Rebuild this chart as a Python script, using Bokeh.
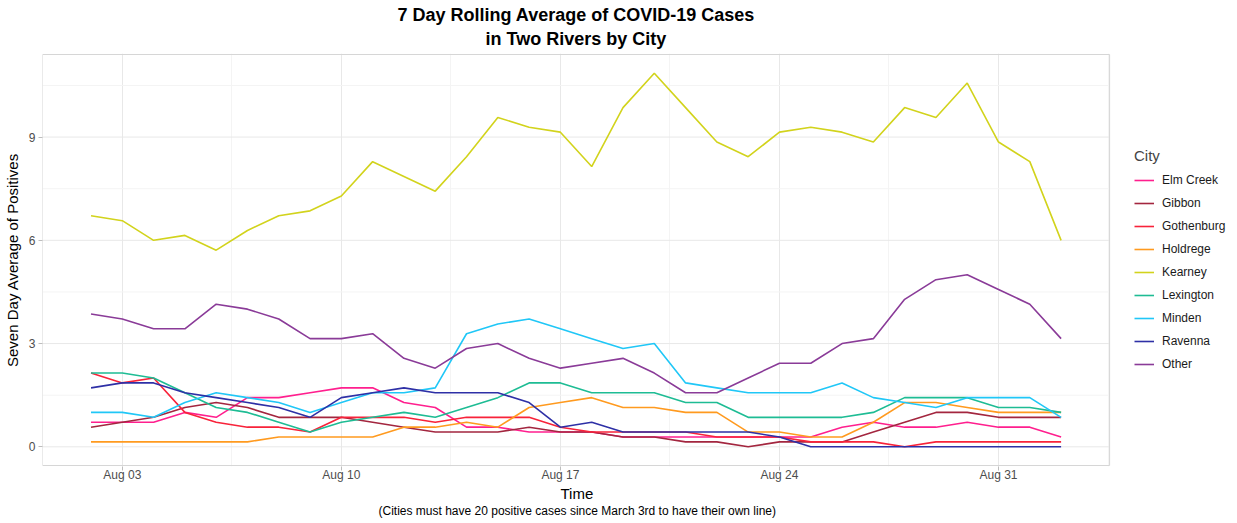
import datetime as dt
from bokeh.plotting import figure
from bokeh.models import (Range1d, FixedTicker, DatetimeTickFormatter, Legend,
                          LegendItem, Title)
from bokeh.embed import file_html
from bokeh.resources import INLINE

# ---------------- data ----------------
first_day = "2020-08-02"
n_days = 32
cities = ["Elm Creek", "Gibbon", "Gothenburg", "Holdrege", "Kearney",
          "Lexington", "Minden", "Ravenna", "Other"]

elm_creek = [0.714, 0.714, 0.714, 1.0, 0.857, 1.429, 1.429, 1.571, 1.714, 1.714, 1.286, 1.143,
             0.571, 0.571, 0.429, 0.429, 0.429, 0.286, 0.286, 0.286, 0.286, 0.286, 0.286, 0.286,
             0.571, 0.714, 0.571, 0.571, 0.714, 0.571, 0.571, 0.286]
gibbon = [0.571, 0.714, 0.857, 1.143, 1.286, 1.143, 0.857, 0.857, 0.857, 0.714, 0.571, 0.429,
          0.429, 0.429, 0.571, 0.429, 0.429, 0.286, 0.286, 0.143, 0.143, 0.0, 0.143, 0.143,
          0.143, 0.429, 0.714, 1.0, 1.0, 0.857, 0.857, 0.857]
gothenburg = [2.143, 1.857, 2.0, 1.0, 0.714, 0.571, 0.571, 0.429, 0.857, 0.857, 0.857, 0.714,
              0.857, 0.857, 0.857, 0.571, 0.429, 0.429, 0.429, 0.429, 0.286, 0.286, 0.286, 0.143,
              0.143, 0.143, 0.0, 0.143, 0.143, 0.143, 0.143, 0.143]
holdrege = [0.143, 0.143, 0.143, 0.143, 0.143, 0.143, 0.286, 0.286, 0.286, 0.286, 0.571, 0.571,
            0.714, 0.571, 1.143, 1.286, 1.429, 1.143, 1.143, 1.0, 1.0, 0.429, 0.429, 0.286,
            0.286, 0.714, 1.286, 1.286, 1.143, 1.0, 1.0, 1.0]
kearney = [6.714, 6.571, 6.0, 6.143, 5.714, 6.286, 6.714, 6.857, 7.286, 8.286, 7.857, 7.429,
           8.429, 9.571, 9.286, 9.143, 8.143, 9.857, 10.857, 9.857, 8.857, 8.429, 9.143, 9.286,
           9.143, 8.857, 9.857, 9.571, 10.571, 8.857, 8.286, 6.0]
lexington = [2.143, 2.143, 2.0, 1.571, 1.143, 1.0, 0.714, 0.429, 0.714, 0.857, 1.0, 0.857,
             1.143, 1.429, 1.857, 1.857, 1.571, 1.571, 1.571, 1.286, 1.286, 0.857, 0.857, 0.857,
             0.857, 1.0, 1.429, 1.429, 1.429, 1.143, 1.143, 1.0]
minden = [1.0, 1.0, 0.857, 1.286, 1.571, 1.429, 1.286, 1.0, 1.286, 1.571, 1.571, 1.714,
          3.286, 3.571, 3.714, 3.429, 3.143, 2.857, 3.0, 1.857, 1.714, 1.571, 1.571, 1.571,
          1.857, 1.429, 1.286, 1.143, 1.429, 1.429, 1.429, 0.857]
ravenna = [1.714, 1.857, 1.857, 1.571, 1.429, 1.286, 1.143, 0.857, 1.429, 1.571, 1.714, 1.571,
           1.571, 1.571, 1.286, 0.571, 0.714, 0.429, 0.429, 0.429, 0.429, 0.429, 0.286, 0.0,
           0.0, 0.0, 0.0, 0.0, 0.0, 0.0, 0.0, 0.0]
other = [3.857, 3.714, 3.429, 3.429, 4.143, 4.0, 3.714, 3.143, 3.143, 3.286, 2.571, 2.286,
         2.857, 3.0, 2.571, 2.286, 2.429, 2.571, 2.143, 1.571, 1.571, 2.0, 2.429, 2.429,
         3.0, 3.143, 4.286, 4.857, 5.0, 4.571, 4.143, 3.143]

colors = ["#FF1F8E", "#A3263F", "#F8233A", "#FF9A1F", "#D2D31C",
          "#1EBC94", "#20C7F7", "#2E30A6", "#8A3B98"]

x_tick_dates = ["2020-08-03", "2020-08-10", "2020-08-17", "2020-08-24", "2020-08-31"]
y_ticks = [0, 3, 6, 9]

title_line1 = "7 Day Rolling Average of COVID-19 Cases"
title_line2 = "in Two Rivers by City"
x_title = "Time"
y_title = "Seven Day Average of Positives"
caption = "(Cities must have 20 positive cases since March 3rd to have their own line)"
legend_title = "City"

# ---------------- layout constants (pixels) ----------------
FONT = "Liberation Sans"
W, H = 1237, 523
LEFT, TOP, BOTTOM = 41, 53, 57
PANEL_W = 1068          # width of the grey-bordered data panel
FRAME_W = W - LEFT      # frame runs to the right edge (legend lives inside it)
FRAME_H = H - TOP - BOTTOM
PANEL_CX = PANEL_W / 2  # panel centre, relative to frame left

# ---------------- scales ----------------
series = [elm_creek, gibbon, gothenburg, holdrege, kearney, lexington, minden, ravenna, other]
d0 = dt.datetime.strptime(first_day, "%Y-%m-%d")
dates = [d0 + dt.timedelta(days=i) for i in range(n_days)]
epoch = dt.datetime(1970, 1, 1)
DAY = 86400000.0


def ms(d):
    return (d - epoch).total_seconds() * 1000.0


major_x = [ms(dt.datetime.strptime(s, "%Y-%m-%d")) for s in x_tick_dates]
minor_x = [m + 3.5 * DAY for m in major_x]
x_lo, x_hi = ms(dates[0]), ms(dates[-1])
x_pad = 0.05 * (x_hi - x_lo)
panel_x0, panel_x1 = x_lo - x_pad, x_hi + x_pad
frame_x1 = panel_x0 + (panel_x1 - panel_x0) * FRAME_W / PANEL_W

all_vals = [v for s in series for v in s]
y_lo, y_hi = min(all_vals), max(all_vals)
y_pad = 0.05 * (y_hi - y_lo)
panel_y0, panel_y1 = y_lo - y_pad, y_hi + y_pad
px_y = (panel_y1 - panel_y0) / FRAME_H
frame_y0, frame_y1 = panel_y0 - px_y, panel_y1 + px_y

p = figure(width=W, height=H, x_axis_type="datetime",
           output_backend="svg", toolbar_location=None,
           x_range=Range1d(panel_x0, frame_x1),
           y_range=Range1d(frame_y0, frame_y1),
           min_border_left=LEFT, min_border_right=0,
           min_border_top=TOP, min_border_bottom=BOTTOM)
p.background_fill_color = "white"
p.border_fill_color = "white"
p.outline_line_color = None

# grid: vertical lines from the axis ticker, horizontal lines limited to the panel
p.xgrid.grid_line_color = "#E8E8E8"
p.xgrid.minor_grid_line_color = "#F4F4F4"
p.ygrid.visible = False
minor_y = [t + 1.5 for t in y_ticks if t + 1.5 < panel_y1]
p.segment(x0=[panel_x0] * len(minor_y), x1=[panel_x1] * len(minor_y),
          y0=minor_y, y1=minor_y, line_color="#F4F4F4", line_width=1)
p.segment(x0=[panel_x0] * len(y_ticks), x1=[panel_x1] * len(y_ticks),
          y0=y_ticks, y1=y_ticks, line_color="#E8E8E8", line_width=1)

renderers = []
for name, vals, c in zip(cities, series, colors):
    r = p.line(dates, vals, line_color=c, line_width=1.6)
    renderers.append(r)

# panel border
p.quad(left=[panel_x0], right=[panel_x1], bottom=[panel_y0], top=[panel_y1],
       fill_color=None, line_color="#D6D6D6", line_width=1)

# axes
p.xaxis.ticker = FixedTicker(ticks=major_x, minor_ticks=minor_x)
p.xaxis.formatter = DatetimeTickFormatter(days="%b %d", months="%b %d", hours="%b %d",
                                          years="%b %d", minutes="%b %d")
p.yaxis.ticker = FixedTicker(ticks=y_ticks, minor_ticks=minor_y)
for ax in (p.xaxis[0], p.yaxis[0]):
    ax.axis_line_color = None
    ax.major_tick_line_color = "#BDBDBD"
    ax.major_tick_out = 4
    ax.major_tick_in = 0
    ax.minor_tick_line_color = None
    ax.major_label_text_color = "#4D4D4D"
    ax.major_label_text_font = FONT
    ax.major_label_text_font_size = "12px"
    ax.axis_label_text_font = FONT
    ax.axis_label_text_font_size = "15px"
    ax.axis_label_text_font_style = "normal"
    ax.axis_label_text_color = "black"
p.yaxis.axis_label = y_title
p.xaxis.major_label_standoff = -3
p.yaxis.major_label_standoff = 3
p.yaxis.axis_label_standoff = 5


def centred_title(text, size, style, est_width, standoff, side):
    t = Title(text=text, align="left", offset=round(PANEL_CX - est_width / 2),
              text_font=FONT, text_font_size=size, text_font_style=style,
              text_color="black", standoff=standoff)
    p.add_layout(t, side)


# below: x axis title, then caption (estimated text widths in px)
centred_title(x_title, "15px", "normal", 33, -4, "below")
centred_title(caption, "12px", "normal", 397, 5, "below")
# above: second line first (closest to the panel), then first line
centred_title(title_line2, "18px", "bold", 182, 10, "above")
centred_title(title_line1, "18px", "bold", 358, -7, "above")

legend = Legend(items=[LegendItem(label=n, renderers=[r]) for n, r in zip(cities, renderers)],
                title=legend_title, location=(PANEL_W + 24, 92))
legend.title_text_font = FONT
legend.title_text_font_size = "15px"
legend.title_text_font_style = "normal"
legend.title_standoff = 6
legend.label_text_font = FONT
legend.label_text_font_size = "12px"
legend.label_text_color = "#1A1A1A"
legend.label_standoff = 8
legend.glyph_width = 20
legend.glyph_height = 20
legend.label_height = 20
legend.spacing = 3
legend.padding = 8
legend.margin = 0
legend.border_line_color = None
legend.background_fill_alpha = 0
p.add_layout(legend, "center")

open("out.html", "w").write(file_html(p, INLINE))
